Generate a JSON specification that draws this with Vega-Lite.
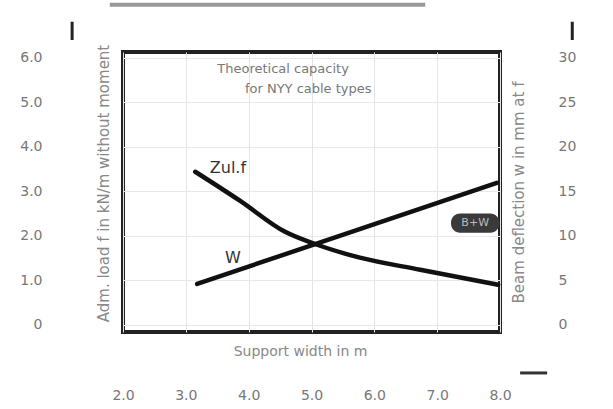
{
  "$schema": "https://vega.github.io/schema/vega-lite/v6.json",
  "width": 377,
  "height": 280,
  "autosize": {"type": "none"},
  "padding": {"left": 123, "top": 52, "right": 113, "bottom": 77},
  "background": "white",
  "config": {
    "view": {"stroke": "#222", "strokeWidth": 4},
    "font": "DejaVu Sans",
    "axis": {"labelFont": "DejaVu Sans", "titleFont": "DejaVu Sans", "labelFlush": false}
  },
  "datasets": {
    "zul": [
      {"x": 3.15, "y": 3.44},
      {"x": 3.86, "y": 2.79},
      {"x": 4.58, "y": 2.09},
      {"x": 5.09, "y": 1.8},
      {"x": 5.77, "y": 1.51},
      {"x": 6.73, "y": 1.24},
      {"x": 7.97, "y": 0.9}
    ],
    "w": [
      {"x": 3.18, "w": 4.6},
      {"x": 7.95, "w": 15.96}
    ],
    "labels": [
      {"x": 3.67, "y": 3.53, "text": "Zul.f"},
      {"x": 3.75, "y": 1.51, "text": "W"}
    ],
    "heading": [
      {"x": 3.5, "y": 5.75, "text": "Theoretical capacity"},
      {"x": 3.94, "y": 5.3, "text": "for NYY cable types"}
    ],
    "pill": [
      {"x": 7.22, "x2": 7.99, "y": 2.5, "y2": 2.07, "cx": 7.605, "cy": 2.285, "text": "B+W"}
    ],
    "deco": [
      {"name": "leftArrow", "x": 1.19, "x2": 1.19, "y": 6.81, "y2": 6.4, "w": 3},
      {"name": "rightArrow", "x": 9.15, "x2": 9.15, "y": 6.81, "y2": 6.4, "w": 3},
      {"name": "bottomArrow", "x": 8.32, "x2": 8.75, "y": -1.08, "y2": -1.08, "w": 3},
      {"name": "topBar", "x": 1.79, "x2": 6.81, "y": 7.19, "y2": 7.19, "w": 4}
    ]
  },
  "layer": [
    {
      "layer": [
        {
          "data": {"name": "zul"},
          "mark": {"type": "line", "color": "#111", "strokeWidth": 4.5, "interpolate": "monotone", "strokeCap": "round"},
          "encoding": {
            "x": {
              "field": "x", "type": "quantitative",
              "scale": {"domain": [2, 8], "nice": false, "zero": false},
              "axis": {
                "values": [2, 2.5, 3, 3.5, 4, 4.5, 5, 5.5, 6, 6.5, 7, 7.5, 8],
                "labelExpr": "datum.value % 1 == 0 ? format(datum.value, '.1f') : ''",
                "domain": false, "ticks": false, "labelPadding": 56,
                "labelFontSize": 14, "labelColor": "#777",
                "grid": true, "gridColor": "#e4e4e4", "gridWidth": 1,
                "title": "Support width in m", "titleX": 177, "titleY": 19,
                "titleAlign": "center", "titleBaseline": "middle",
                "titleFontSize": 14, "titleFontWeight": "normal", "titleColor": "#888"
              }
            },
            "y": {
              "field": "y", "type": "quantitative",
              "scale": {"domain": [-0.16, 6.13], "nice": false, "zero": false},
              "axis": {
                "orient": "left",
                "values": [0, 0.5, 1, 1.5, 2, 2.5, 3, 3.5, 4, 4.5, 5, 5.5, 6],
                "labelExpr": "datum.value == 0 ? '0' : (datum.value % 1 == 0 ? format(datum.value, '.1f') : '')",
                "domain": false, "ticks": false, "labelPadding": 81,
                "labelFontSize": 14, "labelColor": "#777",
                "grid": true, "gridColor": "#e8e8e8", "gridWidth": 1,
                "title": "Adm. load f in kN/m without moment",
                "titleX": -20, "titleY": 131, "titleAngle": 270,
                "titleAlign": "center", "titleBaseline": "middle",
                "titleFontSize": 15, "titleFontWeight": "normal", "titleColor": "#888"
              }
            }
          }
        },
        {
          "data": {"name": "labels"},
          "mark": {"type": "text", "fontSize": 16, "color": "#333", "align": "center", "baseline": "middle"},
          "encoding": {
            "x": {"field": "x", "type": "quantitative"},
            "y": {"field": "y", "type": "quantitative"},
            "text": {"field": "text"}
          }
        },
        {
          "data": {"name": "heading"},
          "mark": {"type": "text", "fontSize": 13, "color": "#777", "align": "left", "baseline": "middle"},
          "encoding": {
            "x": {"field": "x", "type": "quantitative"},
            "y": {"field": "y", "type": "quantitative"},
            "text": {"field": "text"}
          }
        },
        {
          "data": {"name": "pill"},
          "mark": {"type": "rect", "color": "#3a3a3a", "cornerRadius": 9},
          "encoding": {
            "x": {"field": "x", "type": "quantitative"},
            "x2": {"field": "x2"},
            "y": {"field": "y", "type": "quantitative"},
            "y2": {"field": "y2"}
          }
        },
        {
          "data": {"name": "pill"},
          "mark": {"type": "text", "fontSize": 11, "color": "#bbb", "align": "center", "baseline": "middle"},
          "encoding": {
            "x": {"field": "cx", "type": "quantitative"},
            "y": {"field": "cy", "type": "quantitative"},
            "text": {"field": "text"}
          }
        },
        {
          "data": {"name": "deco"},
          "mark": {"type": "rule", "clip": false},
          "encoding": {
            "x": {"field": "x", "type": "quantitative"},
            "x2": {"field": "x2"},
            "y": {"field": "y", "type": "quantitative"},
            "y2": {"field": "y2"},
            "strokeWidth": {"field": "w", "type": "quantitative", "scale": null},
            "color": {"field": "name", "type": "nominal", "scale": {"domain": ["leftArrow", "rightArrow", "bottomArrow", "topBar"], "range": ["#222", "#222", "#333", "#999"]}, "legend": null}
          }
        }
      ]
    },
    {
      "data": {"name": "w"},
      "mark": {"type": "line", "color": "#111", "strokeWidth": 4.5, "strokeCap": "round"},
      "encoding": {
        "x": {"field": "x", "type": "quantitative"},
        "y": {
          "field": "w", "type": "quantitative",
          "scale": {"domain": [-0.8, 30.65], "nice": false, "zero": false},
          "axis": {
            "orient": "right",
            "values": [0, 5, 10, 15, 20, 25, 30],
            "format": "d",
            "domain": false, "ticks": false, "labelPadding": 58,
            "labelFontSize": 14, "labelColor": "#777", "grid": false,
            "title": "Beam deflection w in mm at f",
            "titleX": 18, "titleY": 140, "titleAngle": 270,
            "titleAlign": "center", "titleBaseline": "middle",
            "titleFontSize": 15, "titleFontWeight": "normal", "titleColor": "#888"
          }
        }
      }
    }
  ],
  "resolve": {"scale": {"y": "independent"}}
}
